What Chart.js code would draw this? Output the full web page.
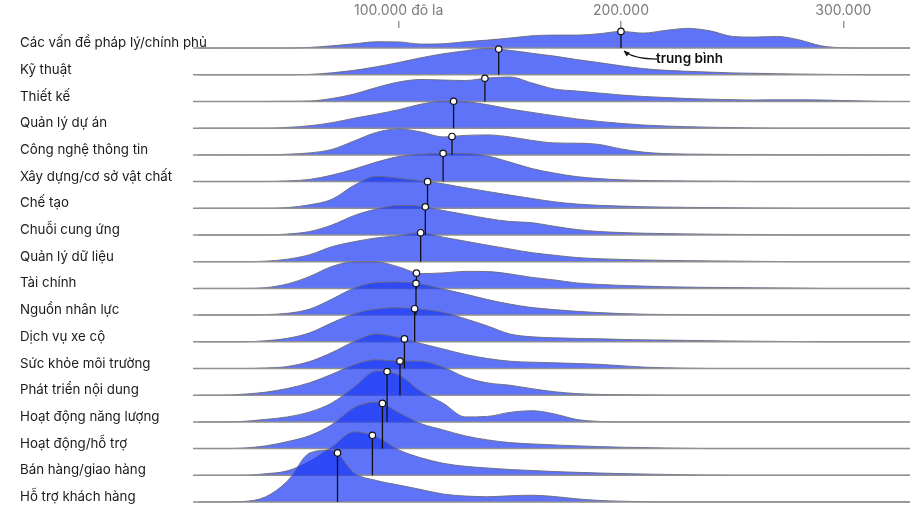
<!DOCTYPE html>
<html lang="vi">
<head>
<meta charset="utf-8">
<title>Lương theo lĩnh vực</title>
<script src="https://cdn.jsdelivr.net/npm/chart.js@4.4.1/dist/chart.umd.min.js"></script>
<style>
  html, body { margin: 0; padding: 0; background: #fff; }
  #wrap { width: 924px; height: 521px; position: relative; }
</style>
</head>
<body>
<div id="wrap"><canvas id="ridges"></canvas></div>
<script>
// --- Données ---

const FIELDS = [
    'Các vấn đề pháp lý/chính phủ', 'Kỹ thuật', 'Thiết kế', 'Quản lý dự án',
    'Công nghệ thông tin', 'Xây dựng/cơ sở vật chất', 'Chế tạo', 'Chuỗi cung ứng',
    'Quản lý dữ liệu', 'Tài chính', 'Nguồn nhân lực', 'Dịch vụ xe cộ',
    'Sức khỏe môi trường', 'Phát triển nội dung', 'Hoạt động năng lượng',
    'Hoạt động/hỗ trợ', 'Bán hàng/giao hàng', 'Hỗ trợ khách hàng'
];

// salary grid, thousands of dollars
const SALARY_K = [10, 20, 30, 40, 50, 60, 70, 80, 90, 100, 110, 120, 130, 140, 150, 160, 170,
                  180, 190, 200, 210, 220, 230, 240, 250, 260, 270, 280, 290, 300, 310, 320, 330];

// curve heights (same scale for every row)
const phapLy       = [0,0,0,0,0,0.7,2.3,4.3,6.3,6.2,4,4.3,6.3,8,10,12.3,13,13,14.3,16.7,15,17.7,19.7,17.3,11.7,11,11.7,8.3,2.3,0.3,0,0,0];
const kyThuat      = [0,0,0,0,0,0.4,2,4.5,8,12.3,17,21,24,26.3,24.5,21.5,18.7,15.3,12.2,9,6.2,4.5,3.5,2.7,1.9,1.5,1.1,0.8,0.5,0.3,0,0,0];
const thietKe      = [0,0,0,0,0.2,0.5,3,7.5,14,19.5,22,21.5,21,23.5,24.5,18.5,12.5,10.5,8.5,6.5,5,4,3,2.3,1.8,1.5,1.7,1.7,1.5,1,0.5,0,0];
const quanLyDuAn   = [0,0,0,0,0.8,2.5,5.5,10,14,18.5,24,27,26.5,23.5,19.2,15.8,12.5,9.3,6.8,4.8,3.2,2.2,1.5,1,0.6,0.3,0,0,0,0,0,0,0];
const congNgheTT   = [0,0,0,0,0.7,2,5.5,14,22.5,26,23,18,19.5,20,18,14.5,12,11.7,10.5,6,2.8,1.3,0.8,0.6,0.4,0.3,0.2,0,0,0,0,0,0];
const xayDung      = [0,0,0,0,0.7,2.2,6.5,12.5,19.5,25,27.3,28.3,28,25.5,19.5,13,8.5,5,3,1.8,1.1,0.8,0.6,0.4,0.3,0,0,0,0,0,0,0,0];
const cheTao       = [0,0,0,0,0.7,3.5,9,23,32,30,27.5,24.5,20.5,16.8,13.2,9.8,6.5,4.3,3,2.2,1.6,1.2,0.9,0.7,0.5,0.3,0.2,0,0,0,0,0,0];
const chuoiCungUng = [0,0,0,0,1,3.5,10,19.5,26,29.5,28.8,24.5,20.5,16.5,13.5,12.3,8.7,5.5,3.5,2.5,1.8,1.4,1.1,0.8,0.6,0.4,0.2,0,0,0,0,0,0];
const quanLyDuLieu = [0,0,0,0.5,2.5,7,15,20,23.8,26,29,24.5,20.5,16.5,12.7,9,6.5,4.2,3,2.3,1.7,1.3,1,0.8,0.6,0.4,0.2,0,0,0,0,0,0];
const taiChinh     = [0,0,0,0.7,4.5,12,22,26.5,26.5,21.5,14.8,15.5,17,16.8,14.5,11,8.5,5.5,4,3,2.3,1.7,1.3,1,0.8,0.6,0.5,0.3,0,0,0,0,0];
const nhanLuc      = [0,0,0,0.5,1.8,6,16,27,32.5,33,31,26,21,15.5,11,7.5,5.5,3.8,2.5,1.5,0.9,0.6,0.4,0.2,0,0,0,0,0,0,0,0,0];
const xeCo         = [0,0,0,1,3.5,9,19,28,32.7,34,32.5,29.5,23,15.8,7.8,5,4,3.4,3,2.4,2,1.7,1.4,1.1,0.8,0.6,0.4,0.2,0,0,0,0,0];
const moiTruong    = [0,0,0,0.5,2,7,16,27,34.5,31,25,19.5,14,10,7.3,6.3,5.7,5,4.2,2.8,1.4,0.7,0.3,0,0,0,0,0,0,0,0,0,0];
const noiDung      = [0,0,1,3,6.7,12.5,21,30.5,35.5,34.2,34,28,18,12.3,10,6.5,3.5,1.6,0.8,0.5,0.3,0,0,0,0,0,0,0,0,0,0,0,0];
const nangLuong    = [0,0,0.5,2.5,5,10,19,35,51,47,30.5,18.7,5,5.5,9.5,11.2,8,2.5,0.5,0,0,0,0,0,0,0,0,0,0,0,0,0,0];
const hoTro        = [0,0,0.5,2.7,7,13,24,41,46.5,36,25,18.7,12.7,8.7,6,4.7,3.7,2.8,2,1.4,1,0.6,0.3,0,0,0,0,0,0,0,0,0,0];
const banHang      = [0,0,0,1.5,4.5,14,28.5,43.5,38.5,25.5,17.5,12,9,7.3,5.8,4.8,3.8,3,2.3,1.7,1.3,0.9,0.5,0.2,0,0,0,0,0,0,0,0,0];
const khachHang    = [0,0,0.5,5,21,49,52,29,21.5,17,12.5,8,6,5.3,6.2,6.8,5.5,3.2,1.6,0.8,0.3,0,0,0,0,0,0,0,0,0,0,0,0];

const DENSITIES = [phapLy, kyThuat, thietKe, quanLyDuAn, congNgheTT, xayDung, cheTao, chuoiCungUng,
                   quanLyDuLieu, taiChinh, nhanLuc, xeCo, moiTruong, noiDung, nangLuong, hoTro, banHang, khachHang];

// trung bình, thousands of dollars
const MEANS_K = [200, 145, 138.8, 124.7, 124, 120, 113, 112, 109.9, 108, 107.8, 107.2, 102.6, 100.6, 94.8, 92.7, 88.2, 72.5];

const TICKS_K = [100, 200, 300];
const TICK_LABELS = ['100.000 đô la', '200.000', '300.000'];

// --- Mise en page ---
const X_MIN = 7.5, X_MAX = 330;
const ROW_GAP = 26.7;
const Y_MAX = 474;
const N = FIELDS.length;
const OFFSETS = FIELDS.map((f, i) => (N - 1 - i) * ROW_GAP);

const FILL = 'rgba(25, 55, 245, 0.7)';
const EDGE = 'rgba(105, 105, 125, 0.9)';
const BASE = '#8f8f8f';

Chart.defaults.font.family = "Inter, 'Noto Sans', sans-serif";
Chart.defaults.font.size = 14;

const datasets = [];
const ridgeIndex = [];
FIELDS.forEach((field, i) => {
    const off = OFFSETS[i];
    ridgeIndex.push(datasets.length);
    datasets.push({
        label: field,
        data: SALARY_K.map((s, j) => ({ x: s, y: off + DENSITIES[i][j] })),
        fill: { value: off },
        backgroundColor: FILL,
        borderColor: EDGE,
        borderWidth: 1,
        pointRadius: 0,
        cubicInterpolationMode: 'monotone',
        clip: false,
        order: 2 * (N - i)
    });
    datasets.push({
        label: field + ' (base)',
        data: [{ x: X_MIN, y: off }, { x: X_MAX, y: off }],
        borderColor: BASE,
        borderWidth: 1.5,
        pointRadius: 0,
        fill: false,
        clip: false,
        order: 2 * (N - i) - 1
    });
});

// Vạch trung bình + chú thích
const meanMarkers = {
    id: 'meanMarkers',
    afterDatasetsDraw(chart) {
        const { ctx, scales: { x, y } } = chart;
        ctx.save();
        FIELDS.forEach((f, i) => {
            const meta = chart.getDatasetMeta(ridgeIndex[i]);
            const px = x.getPixelForValue(MEANS_K[i]);
            const base = y.getPixelForValue(OFFSETS[i]);
            const hit = meta.dataset.interpolate({ x: px }, 'x');
            const top = hit ? (Array.isArray(hit) ? hit[0].y : hit.y) : base;
            ctx.strokeStyle = '#111';
            ctx.lineWidth = 1.3;
            ctx.beginPath();
            ctx.moveTo(px, base);
            ctx.lineTo(px, top);
            ctx.stroke();
            ctx.beginPath();
            ctx.arc(px, top, 3.2, 0, Math.PI * 2);
            ctx.fillStyle = '#fff';
            ctx.fill();
            ctx.lineWidth = 1.2;
            ctx.stroke();
        });

        // "trung bình" next to the first row
        const mx = x.getPixelForValue(MEANS_K[0]);
        const my = y.getPixelForValue(OFFSETS[0]);
        const tail = { x: mx + 36, y: my + 11 };
        const tip = { x: mx + 3, y: my + 3 };
        const cp = { x: mx + 13, y: my + 11 };
        ctx.strokeStyle = '#111';
        ctx.lineWidth = 1.3;
        ctx.beginPath();
        ctx.moveTo(tail.x, tail.y);
        ctx.quadraticCurveTo(cp.x, cp.y, tip.x, tip.y);
        ctx.stroke();
        const ang = Math.atan2(tip.y - cp.y, tip.x - cp.x);
        ctx.fillStyle = '#111';
        ctx.beginPath();
        ctx.moveTo(tip.x, tip.y);
        ctx.lineTo(tip.x - 6 * Math.cos(ang - 0.45), tip.y - 6 * Math.sin(ang - 0.45));
        ctx.lineTo(tip.x - 6 * Math.cos(ang + 0.45), tip.y - 6 * Math.sin(ang + 0.45));
        ctx.closePath();
        ctx.fill();
        ctx.font = "600 13.5px Inter, 'Noto Sans', sans-serif";
        ctx.textAlign = 'left';
        ctx.textBaseline = 'middle';
        ctx.fillText('trung bình', mx + 35, my + 11);
        ctx.restore();
    }
};

new Chart(document.getElementById('ridges'), {
    type: 'line',
    data: { datasets },
    plugins: [meanMarkers],
    options: {
        responsive: true,
        maintainAspectRatio: false,
        animation: false,
        events: [],
        layout: { padding: { left: 20, right: 14, top: 0, bottom: 19 } },
        plugins: {
            legend: { display: false },
            tooltip: { enabled: false }
        },
        scales: {
            x: {
                type: 'linear',
                position: 'top',
                min: X_MIN,
                max: X_MAX,
                afterBuildTicks: (scale) => { scale.ticks = TICKS_K.map(v => ({ value: v })); },
                afterFit: (scale) => { scale.height = 28; },
                grid: { drawOnChartArea: false, drawTicks: true, tickLength: 7, color: '#9a9a9a', lineWidth: 1.5 },
                border: { display: false },
                ticks: {
                    padding: 2,
                    color: '#7b7b7b',
                    maxRotation: 0,
                    autoSkip: false,
                    callback: (value) => TICK_LABELS[TICKS_K.indexOf(value)]
                }
            },
            y: {
                type: 'linear',
                min: 0,
                max: Y_MAX,
                afterBuildTicks: (scale) => { scale.ticks = OFFSETS.map(v => ({ value: v })); },
                afterFit: (scale) => { scale.width = 173; },
                grid: { display: false },
                border: { display: false },
                ticks: {
                    // mirrored so the long first label is not clipped at the plot edge
                    mirror: true,
                    padding: -173,
                    crossAlign: 'near',
                    labelOffset: -5,
                    color: '#1a1a1a',
                    font: { size: 13.3 },
                    autoSkip: false,
                    callback: (value) => FIELDS[OFFSETS.indexOf(value)]
                }
            }
        }
    }
});
</script>
</body>
</html>
